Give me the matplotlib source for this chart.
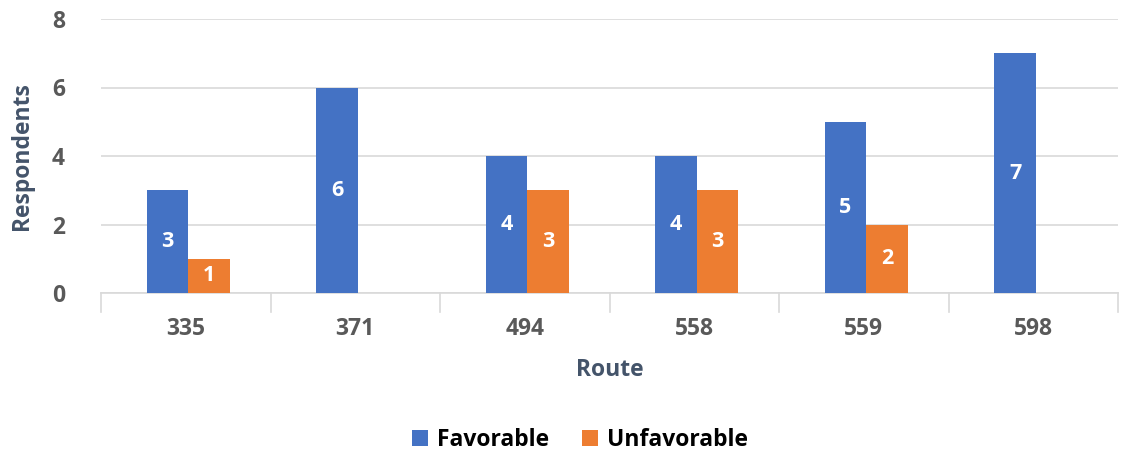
import matplotlib
matplotlib.use("Agg")
import matplotlib.pyplot as plt
import numpy as np

routes = ["335", "371", "494", "558", "559", "598"]
favorable = [3, 6, 4, 4, 5, 7]
unfavorable = [1, 0, 3, 3, 2, 0]
series_names = ["Favorable", "Unfavorable"]
yticks = [0, 2, 4, 6, 8]

BLUE = "#4472C4"
ORANGE = "#ED7D31"
TICK = "#595959"
TITLE = "#44546A"

plt.rcParams['font.family'] = ['Open Sans', 'DejaVu Sans']

fig = plt.figure(figsize=(11.29, 4.53), dpi=100)
ax = fig.add_axes([101/1129, 1 - 293/453, (1118-101)/1129, (293-19)/453])

x = np.arange(len(routes))
w = 0.245
off = 0.015
b1 = ax.bar(x - w/2 + off, favorable, w, color=BLUE, label=series_names[0], zorder=3)
b2 = ax.bar(x + w/2 + off, unfavorable, w, color=ORANGE, label=series_names[1], zorder=3)

for bars, vals in ((b1, favorable), (b2, unfavorable)):
    for r, v in zip(bars, vals):
        if v > 0:
            ax.text(r.get_x() + r.get_width()/2, v/2, str(v), ha='center', va='center',
                    color='white', fontsize=15.5, fontweight='bold', zorder=4)

ax.set_xlim(-0.5, len(routes) - 0.5)
ax.set_ylim(0, 8)
ax.set_yticks(yticks)
ax.set_yticklabels([str(t) for t in yticks])
ax.grid(axis='y', color='#D9D9D9', linewidth=1.2, zorder=0)
for s in ['top', 'right', 'left']:
    ax.spines[s].set_visible(False)
ax.spines['bottom'].set_color('#D9D9D9')
ax.spines['bottom'].set_linewidth(1.2)

ax.set_xticks(x)
ax.set_xticklabels(routes)
ax.tick_params(axis='x', length=0, pad=17, labelsize=16.5, labelcolor=TICK)
ax.tick_params(axis='y', length=0, pad=26, labelsize=16.5, labelcolor=TICK)
for lbl in ax.get_xticklabels() + ax.get_yticklabels():
    lbl.set_fontweight('bold')

# category separators
for b in np.arange(len(routes) + 1) - 0.5:
    ax.plot([b, b], [0, -0.07], color='#D9D9D9', lw=1.2, transform=ax.get_xaxis_transform(),
            clip_on=False, zorder=2)

ax.set_xlabel("Route", fontsize=16.5, fontweight='bold', color=TITLE)
ax.xaxis.set_label_coords(0.5, -(370 - 293) / 274, transform=ax.transAxes)
ax.xaxis.label.set_va('center')
ax.set_ylabel("Respondents", fontsize=16.5, fontweight='bold', color=TITLE)
ax.yaxis.set_label_coords(-(101 - 22) / 1017, 0.5)
ax.yaxis.label.set_va('center')

leg = fig.legend(handles=[b1, b2], labels=series_names, loc='center', bbox_to_anchor=(580/1129, 1 - 440/453),
                 ncol=2, frameon=False, fontsize=16.5, handlelength=0.7, handleheight=0.7,
                 columnspacing=1.4, handletextpad=0.4)
for t in leg.get_texts():
    t.set_fontweight('bold')
    t.set_color('black')

fig.savefig("out.png", dpi=100)
